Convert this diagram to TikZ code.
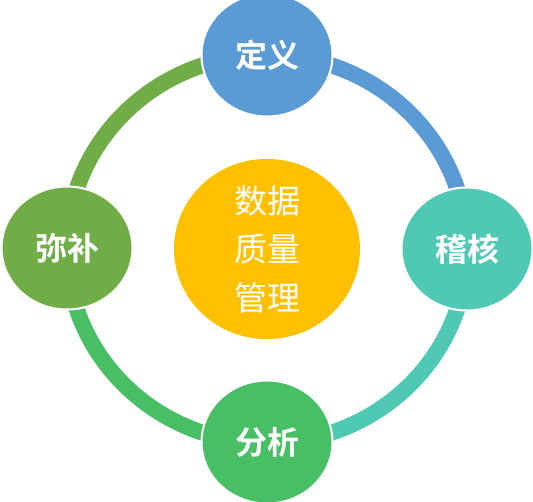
\documentclass[tikz,border=0pt]{standalone}
\usepackage{fontspec}
\newfontfamily\cjk{Noto Sans CJK SC}
\newfontfamily\cjkb{Noto Sans CJK SC Bold}
\definecolor{cblue}{HTML}{5B9BD5}
\definecolor{cteal}{HTML}{4FC8B4}
\definecolor{cgreen}{HTML}{48BF64}
\definecolor{clime}{HTML}{70AD47}
\definecolor{cgold}{HTML}{FFC000}
\begin{document}
\begin{tikzpicture}[x=1pt,y=-1pt,
  ringarc/.style={line width=16pt},
  stagenode/.style={ellipse, draw=white, line width=2pt, minimum width=131pt, minimum height=123pt, inner sep=0pt, text=white, font=\cjkb\fontsize{32}{32}\selectfont},
  corenode/.style={ellipse, fill=cgold, minimum width=186pt, minimum height=172pt, inner sep=0pt, text=white, align=center, font=\cjk\fontsize{33}{48.5}\selectfont}]
\useasboundingbox (0,0) rectangle (533,501);
\usetikzlibrary{shapes.geometric}
% ring arcs
\draw[ringarc, cblue] (267,55) arc[start angle=90, end angle=0, x radius=200pt, y radius=194pt];
\draw[ringarc, cteal] (467,249) arc[start angle=0, end angle=-90, x radius=200pt, y radius=194pt];
\draw[ringarc, cgreen] (267,443) arc[start angle=-90, end angle=-180, x radius=200pt, y radius=194pt];
\draw[ringarc, clime] (67,249) arc[start angle=180, end angle=90, x radius=200pt, y radius=194pt];
\node[corenode] (core) at (267,249) {数据\\质量\\管理};
\node[stagenode, fill=cblue] (def) at (267,55) {定义};
\node[stagenode, fill=cteal] (chk) at (467,249) {稽核};
\node[stagenode, fill=cgreen] (ana) at (267,442) {分析};
\node[stagenode, fill=clime] (fix) at (67,248) {弥补};
\end{tikzpicture}
\end{document}
